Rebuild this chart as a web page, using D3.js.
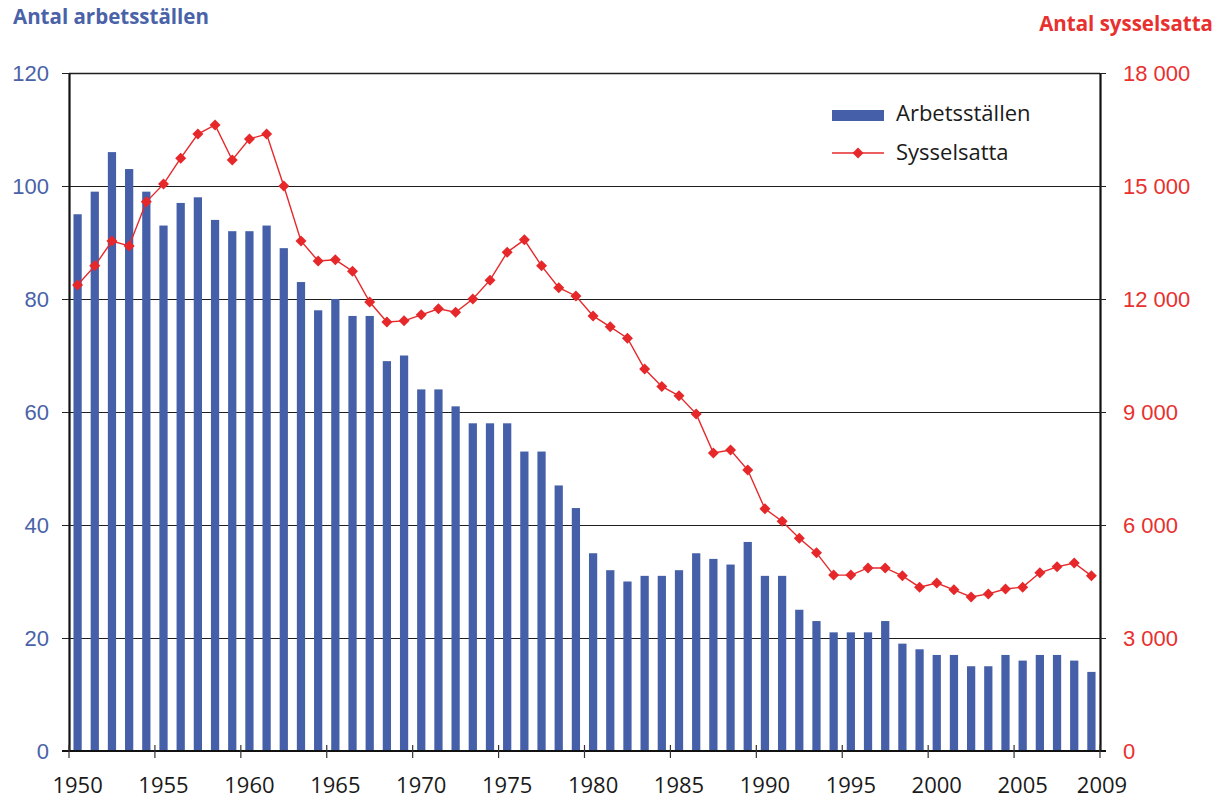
<!DOCTYPE html>
<html>
<head>
<meta charset="utf-8">
<script src="https://cdn.jsdelivr.net/npm/d3@7"></script>
<style>
  body { margin: 0; background: #fff; }
  svg { display: block; font-family: "Open Sans", sans-serif; }
</style>
</head>
<body>
<div id="chart"></div>
<script>
// Arbetsställen (bars, left axis) and Sysselsatta (line, right axis), 1950-2009
const years = d3.range(1950, 2010);
const arbetsstallen = [
  95, 99, 106, 103, 99, 93, 97, 98, 94, 92,
  92, 93, 89, 83, 78, 80, 77, 77, 69, 70,
  64, 64, 61, 58, 58, 58, 53, 53, 47, 43,
  35, 32, 30, 31, 31, 32, 35, 34, 33, 37,
  31, 31, 25, 23, 21, 21, 21, 23, 19, 18,
  17, 17, 15, 15, 17, 16, 17, 17, 16, 14
];
const sysselsatta = [
  12370, 12880, 13540, 13410, 14580, 15050, 15740, 16380, 16620, 15690,
  16250, 16380, 15000, 13540, 13010, 13040, 12740, 11920, 11390, 11420,
  11580, 11740, 11650, 12000, 12500, 13240, 13570, 12880, 12300, 12080,
  11550, 11260, 10960, 10140, 9680, 9430, 8950, 7910, 7990, 7460,
  6430, 6100, 5650, 5260, 4670, 4670, 4860, 4860, 4650, 4350,
  4460, 4280, 4090, 4170, 4300, 4350, 4730, 4890, 4990, 4650
];
const leftTicks = [0, 20, 40, 60, 80, 100, 120];
const rightTicks = [0, 3000, 6000, 9000, 12000, 15000, 18000];
const xTickYears = [1950, 1955, 1960, 1965, 1970, 1975, 1980, 1985, 1990, 1995, 2000, 2005, 2010];
const xLabelYears = [1950, 1955, 1960, 1965, 1970, 1975, 1980, 1985, 1990, 1995, 2000, 2005, 2009];

const width = 1225, height = 799;
const m = { left: 69, right: 1100, top: 73, bottom: 751 };
const blue = "#4560a8", red = "#e6282b", textBlue = "#4a62a8", textRed = "#e8312f";

const svg = d3.select("#chart").append("svg")
  .attr("width", width)
  .attr("height", height);

const x = d3.scaleBand().domain(years).range([m.left, m.right]).paddingInner(0.52).paddingOuter(0.26);
const xLin = d3.scaleLinear().domain([1950, 2010]).range([m.left, m.right]);
const yL = d3.scaleLinear().domain([0, 120]).range([m.bottom, m.top]);
const yR = d3.scaleLinear().domain([0, 18000]).range([m.bottom, m.top]);

// gridlines
svg.append("g")
  .selectAll("line")
  .data(leftTicks.filter(d => d > 0))
  .enter().append("line")
  .attr("x1", m.left).attr("x2", m.right)
  .attr("y1", d => Math.round(yL(d)) + 0.5).attr("y2", d => Math.round(yL(d)) + 0.5)
  .attr("stroke", "#1e1e1e")
  .attr("stroke-width", d => d === 120 ? 1.6 : 1.1);

// bars
svg.append("g")
  .selectAll("rect")
  .data(years)
  .enter().append("rect")
  .attr("x", (d) => x(d))
  .attr("y", (d, i) => yL(arbetsstallen[i]))
  .attr("width", x.bandwidth())
  .attr("height", (d, i) => m.bottom - yL(arbetsstallen[i]))
  .style("fill", blue);

// left axis
const axL = svg.append("g")
  .attr("transform", `translate(${m.left},0)`)
  .call(d3.axisLeft(yL).tickValues(leftTicks).tickSize(7).tickPadding(13).tickSizeOuter(0));
axL.select(".domain").attr("stroke", "#111").attr("stroke-width", 2.2);
axL.selectAll(".tick line").attr("stroke", "#222");
axL.selectAll("text").style("font-size", "22px").style("fill", textBlue);

// right axis
const axR = svg.append("g")
  .attr("transform", `translate(${m.right},0)`)
  .call(d3.axisRight(yR).tickValues(rightTicks).tickSize(6).tickPadding(17).tickSizeOuter(0)
    .tickFormat(d => d3.format(",")(d).replace(",", " ")));
axR.select(".domain").attr("stroke", "#111").attr("stroke-width", 2.2);
axR.selectAll(".tick line").attr("stroke", "#222");
axR.selectAll("text").style("font-size", "22px").style("fill", textRed);

// bottom axis: ticks at 5-year boundaries, labels centered on the bars
svg.append("line")
  .attr("x1", m.left - 7).attr("x2", m.right + 6)
  .attr("y1", m.bottom).attr("y2", m.bottom)
  .attr("stroke", "#111").attr("stroke-width", 2.2);
svg.append("g")
  .selectAll("line")
  .data(xTickYears)
  .enter().append("line")
  .attr("x1", d => xLin(d)).attr("x2", d => xLin(d))
  .attr("y1", m.bottom - 6).attr("y2", m.bottom + 7)
  .attr("stroke", "#333").attr("stroke-width", 1.2);
svg.append("g")
  .selectAll("text")
  .data(xLabelYears)
  .enter().append("text")
  // the last label sits at the end of the axis
  .attr("x", (d, i) => i === xLabelYears.length - 1 ? m.right + 2 : x(d) + x.bandwidth() / 2)
  .attr("y", 793)
  .attr("text-anchor", "middle")
  .style("font-size", "22px")
  .style("fill", "#1a1a1a")
  .text(d => d);

// line
const pts = years.map((yr, i) => [x(yr) + x.bandwidth() / 2, yR(sysselsatta[i])]);
svg.append("path")
  .attr("d", d3.line()(pts))
  .attr("fill", "none")
  .attr("stroke", red)
  .attr("stroke-width", 1.4);
svg.append("g")
  .selectAll("path")
  .data(pts)
  .enter().append("path")
  .attr("transform", d => `translate(${d[0]},${d[1]})`)
  .attr("d", "M0,-5.5L5.5,0L0,5.5L-5.5,0Z")
  .attr("fill", red);

// titles
svg.append("text")
  .attr("x", 13).attr("y", 24)
  .style("font-size", "20.5px").style("font-weight", "bold").style("fill", textBlue)
  .text("Antal arbetsställen");
svg.append("text")
  .attr("x", 1213).attr("y", 31)
  .attr("text-anchor", "end")
  .style("font-size", "20.5px").style("font-weight", "bold").style("fill", textRed)
  .text("Antal sysselsatta");

// legend
const lg = svg.append("g");
lg.append("rect").attr("x", 832).attr("y", 110).attr("width", 52).attr("height", 11).style("fill", blue);
lg.append("text").attr("x", 896).attr("y", 121).style("font-size", "22px").style("fill", "#1a1a1a").text("Arbetsställen");
lg.append("line").attr("x1", 832).attr("x2", 884).attr("y1", 153).attr("y2", 153).attr("stroke", red).attr("stroke-width", 1.4);
lg.append("path").attr("transform", "translate(858,153)").attr("d", "M0,-5.5L5.5,0L0,5.5L-5.5,0Z").attr("fill", red);
lg.append("text").attr("x", 896).attr("y", 160).style("font-size", "22px").style("fill", "#1a1a1a").text("Sysselsatta");
</script>
</body>
</html>
